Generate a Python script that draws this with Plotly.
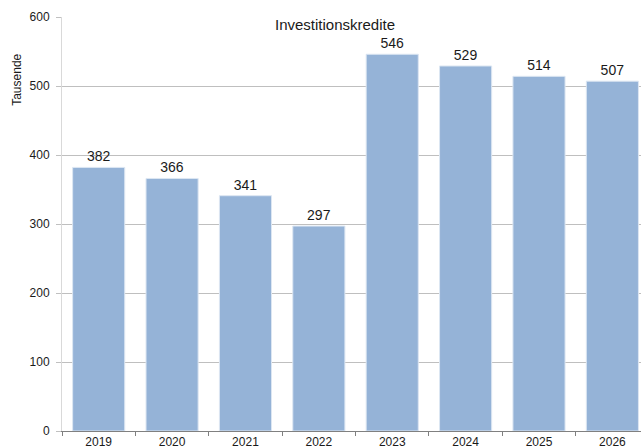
import plotly.graph_objects as go

years = ["2019", "2020", "2021", "2022", "2023", "2024", "2025", "2026"]
values = [382, 366, 341, 297, 546, 529, 514, 507]
y_ticks = [0, 100, 200, 300, 400, 500, 600]

fig = go.Figure()
fig.add_trace(go.Bar(
    x=years, y=values,
    marker=dict(color="#95B3D7", line=dict(color="#DCE6F2", width=1)),
    width=0.71,
    text=[str(v) for v in values],
    textposition="outside",
    textfont=dict(family="Liberation Sans, Arial", size=14, color="#1a1a1a"),
    cliponaxis=False,
))

fig.update_layout(
    width=641, height=448,
    margin=dict(l=62, r=0, t=17, b=17),
    paper_bgcolor="white", plot_bgcolor="white",
    showlegend=False,
    font=dict(family="Liberation Sans, Arial", size=12, color="#1a1a1a"),
)
fig.update_xaxes(
    range=[-0.5, 7.39], automargin=False,
    showline=True, linecolor="#808080", linewidth=1,
    ticks="outside", tickson="boundaries", ticklen=4, tickcolor="#808080",
    tickfont=dict(size=12), showgrid=False,
)
fig.update_yaxes(
    range=[0, 600], tickvals=y_ticks, automargin=False,
    showline=True, linecolor="#D9D9D9", linewidth=1,
    ticks="outside", ticklen=5, tickcolor="#C0C0C0",
    ticklabelstandoff=4,
    showgrid=True, gridcolor="#BFBFBF", gridwidth=1,
    tickfont=dict(size=12), zeroline=False,
)
fig.add_annotation(text="Investitionskredite", xref="x", yref="y",
                   x=3.22, y=589, showarrow=False,
                   xanchor="center", yanchor="middle",
                   font=dict(size=15, color="#1a1a1a"))
fig.add_annotation(text="Tausende", xref="paper", yref="y",
                   x=-0.0777, y=509, textangle=-90, showarrow=False,
                   xanchor="center", yanchor="middle",
                   font=dict(size=12, color="#1a1a1a"))

fig.write_html(
    "out.html",
    config={"displayModeBar": False},
    post_script="document.body.style.margin='0';document.body.style.overflow='hidden';",
)
